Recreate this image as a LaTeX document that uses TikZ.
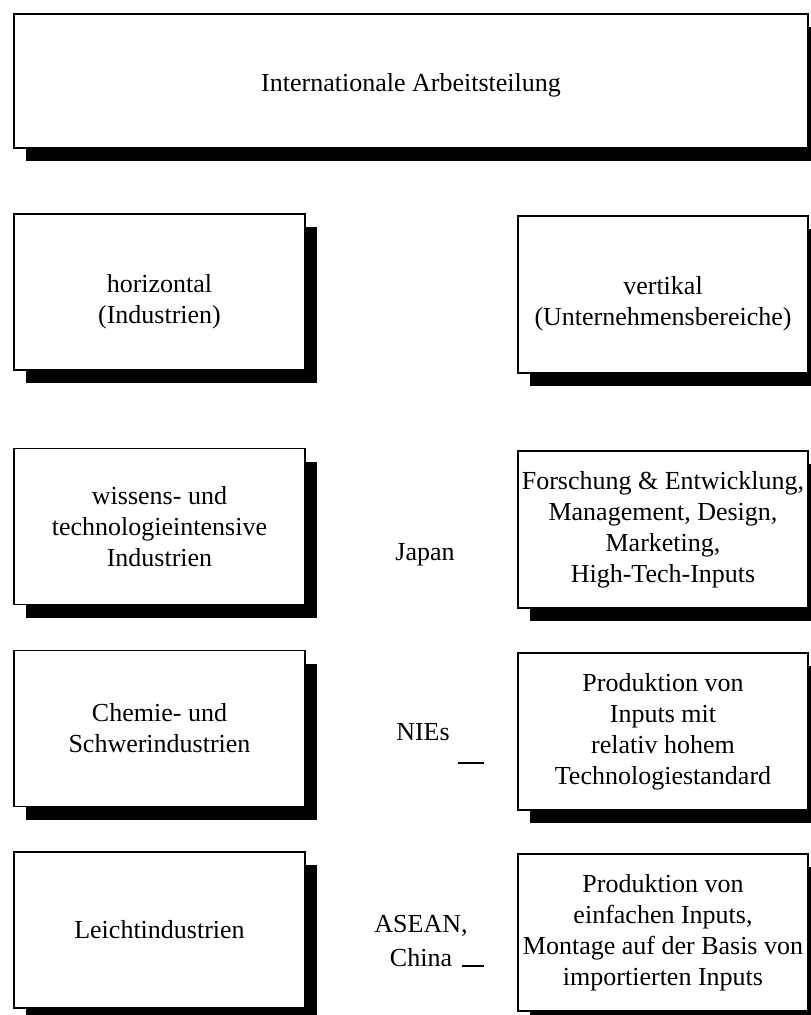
\documentclass[tikz,border=0pt]{standalone}
\usepackage{fontspec}
\setmainfont{Liberation Serif}
\usetikzlibrary{shadows}

\tikzset{
    box/.style={draw, line width=1.5pt, fill=white, align=center, inner sep=0pt,
        drop shadow={shadow xshift=12pt, shadow yshift=-13pt, fill=black, opacity=1},
        font=\fontsize{26}{31}\selectfont},
    lbox/.style={box, minimum width=291pt, minimum height=156pt},
    rbox/.style={box, minimum width=290pt, minimum height=157pt},
    region/.style={align=center, font=\fontsize{26}{31}\selectfont},
    tick/.style={line width=1.5pt}
}

\begin{document}
\begin{tikzpicture}[x=1pt,y=-1pt]
    \useasboundingbox (0,0) rectangle (811,1015);
    % Top level
    \node[box, minimum width=794pt, minimum height=134pt] (ia) at (411,81) {\rule{0pt}{26pt}Internationale Arbeitsteilung};

    % Two kinds of division
    \node[lbox] (hor) at (159.5,292) {\rule{0pt}{38pt}horizontal\\(Industrien)};
    \node[rbox] (ver) at (663,294.5) {\rule{0pt}{36pt}vertikal\\(Unternehmensbereiche)};

    % Industries
    \node[lbox] (wis) at (159.5,526.5) {wissens- und\\technologieintensive\\Industrien};
    \node[lbox] (che) at (159.5,728.5) {Chemie- und\\Schwerindustrien};
    \node[lbox] (lei) at (159.5,930) {Leichtindustrien};

    % Corporate functions
    \node[rbox] (fue) at (663,529.5) {Forschung \& Entwicklung,\\Management, Design,\\Marketing,\\High-Tech-Inputs};
    \node[rbox] (pro) at (663,731.5) {Produktion von\\Inputs mit\\relativ hohem\\Technologiestandard};
    \node[rbox] (mon) at (663,932.5) {Produktion von\\einfachen Inputs,\\Montage auf der Basis von\\importierten Inputs};

    % Regions
    \node[region] (jp) at (425,555) {Japan};
    \node[region] (nie) at (423,732) {NIEs};
    \node[region] (asc) at (421,941) {ASEAN,\\[3pt]China};

    \draw[tick] (458,763) -- (484,763);
    \draw[tick] (462,966) -- (484,966);
\end{tikzpicture}
\end{document}
